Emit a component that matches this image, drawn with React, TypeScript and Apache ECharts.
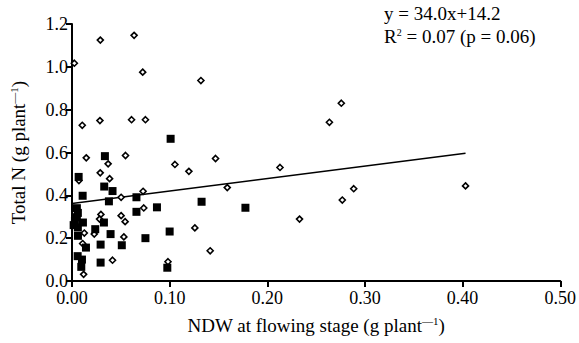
import React, { useEffect, useRef } from "react";
import * as echarts from "echarts";

const FONT = "Liberation Serif";

const filledX = [0.101, 0.0337, 0.0068, 0.033, 0.0415, 0.0109, 0.0378, 0.066, 0.066, 0.087, 0.1327, 0.1776, 0.005, 0.006, 0.005, 0.003, 0.0112, 0.0017, 0.006, 0.0327, 0.0238, 0.0395, 0.0061, 0.0752, 0.1, 0.0143, 0.0293, 0.051, 0.0058, 0.0102, 0.0095, 0.0293, 0.0976];
const filledY = [0.664, 0.583, 0.486, 0.441, 0.42, 0.398, 0.372, 0.391, 0.323, 0.344, 0.37, 0.342, 0.34, 0.318, 0.298, 0.28, 0.273, 0.261, 0.25, 0.273, 0.242, 0.219, 0.211, 0.2, 0.231, 0.156, 0.17, 0.167, 0.116, 0.1, 0.066, 0.086, 0.062];

const openX = [0.029, 0.0636, 0.0024, 0.0724, 0.132, 0.0105, 0.0286, 0.061, 0.0752, 0.0146, 0.0548, 0.037, 0.1054, 0.1197, 0.0289, 0.0385, 0.0071, 0.2758, 0.2636, 0.147, 0.213, 0.159, 0.2885, 0.403, 0.2768, 0.233, 0.1258, 0.1415, 0.0503, 0.0296, 0.0282, 0.0503, 0.0544, 0.0126, 0.0228, 0.0531, 0.0109, 0.0415, 0.0119, 0.0728, 0.0735, 0.0983];
const openY = [1.125, 1.147, 1.017, 0.975, 0.936, 0.727, 0.749, 0.753, 0.753, 0.575, 0.586, 0.547, 0.544, 0.512, 0.505, 0.478, 0.469, 0.83, 0.741, 0.572, 0.53, 0.436, 0.431, 0.444, 0.378, 0.289, 0.248, 0.141, 0.391, 0.311, 0.289, 0.305, 0.277, 0.224, 0.219, 0.206, 0.175, 0.097, 0.031, 0.419, 0.341, 0.09];

const fitX = [0, 0.403];
const fitY = [0.362, 0.597];

const xTicks = { min: 0, max: 0.5, interval: 0.1 };
const yTicks = { min: 0, max: 1.2, interval: 0.2 };

const equationText = "y = 34.0x+14.2";

export default function App() {
  const ref = useRef<HTMLDivElement>(null);
  useEffect(() => {
    const chart = echarts.init(ref.current!, null, { renderer: "svg" });
    const axisCommon = {
      axisLine: { show: true, lineStyle: { color: "#000", width: 2 } },
      axisTick: { show: true, length: 6, lineStyle: { color: "#000", width: 2 } },
      splitLine: { show: false },
    };
    chart.setOption({
      animation: false,
      backgroundColor: "#fff",
      textStyle: { fontFamily: FONT },
      grid: { left: 72, right: 17, top: 24, bottom: 62 },
      xAxis: {
        type: "value",
        ...xTicks,
        ...axisCommon,
        axisLabel: {
          color: "#000",
          fontFamily: FONT,
          fontSize: 18,
          margin: 8,
          formatter: (v: number) => v.toFixed(2),
        },
        name: "NDW at flowing stage (g plant{sup|—1})",
        nameLocation: "middle",
        nameGap: 34,
        nameTextStyle: {
          color: "#000",
          fontFamily: FONT,
          fontSize: 19,
          rich: { sup: { fontSize: 11, fontFamily: FONT, color: "#000", padding: [0, 0, 9, 0] } },
        },
      },
      yAxis: {
        type: "value",
        ...yTicks,
        ...axisCommon,
        axisLabel: {
          color: "#000",
          fontFamily: FONT,
          fontSize: 18,
          margin: 4,
          formatter: (v: number) => v.toFixed(1),
        },
        name: "Total N (g plant{sup|—1})",
        nameLocation: "middle",
        nameGap: 44,
        nameRotate: 90,
        nameTextStyle: {
          color: "#000",
          fontFamily: FONT,
          fontSize: 19,
          rich: { sup: { fontSize: 11, fontFamily: FONT, color: "#000", padding: [0, 0, 9, 0] } },
        },
      },
      graphic: [
        {
          type: "text",
          left: 384,
          top: 4,
          style: { text: equationText, font: `19px "${FONT}"`, fill: "#000" },
        },
        {
          type: "text",
          left: 384,
          top: 27,
          style: {
            text: "R{sup|2} = 0.07 (p = 0.06)",
            font: `19px "${FONT}"`,
            fill: "#000",
            rich: { sup: { fontSize: 10, fontFamily: FONT, fill: "#000", padding: [0, 0, 8, 0] } },
          },
        },
      ],
      series: [
        {
          type: "line",
          data: fitX.map((x, i) => [x, fitY[i]]),
          symbol: "none",
          lineStyle: { color: "#000", width: 1.5 },
          z: 1,
        },
        {
          type: "scatter",
          data: openX.map((x, i) => [x, openY[i]]),
          symbol: "diamond",
          symbolSize: 6,
          itemStyle: { color: "#fff", borderColor: "#000", borderWidth: 1.6, opacity: 1 },
          z: 2,
        },
        {
          type: "scatter",
          data: filledX.map((x, i) => [x, filledY[i]]),
          symbol: "rect",
          symbolSize: 8,
          itemStyle: { color: "#000", opacity: 1 },
          z: 3,
        },
      ],
    });
    return () => chart.dispose();
  }, []);
  return (
    <div
      ref={ref}
      style={{ position: "absolute", left: 0, top: 0, width: 579, height: 343, background: "#fff" }}
    />
  );
}
